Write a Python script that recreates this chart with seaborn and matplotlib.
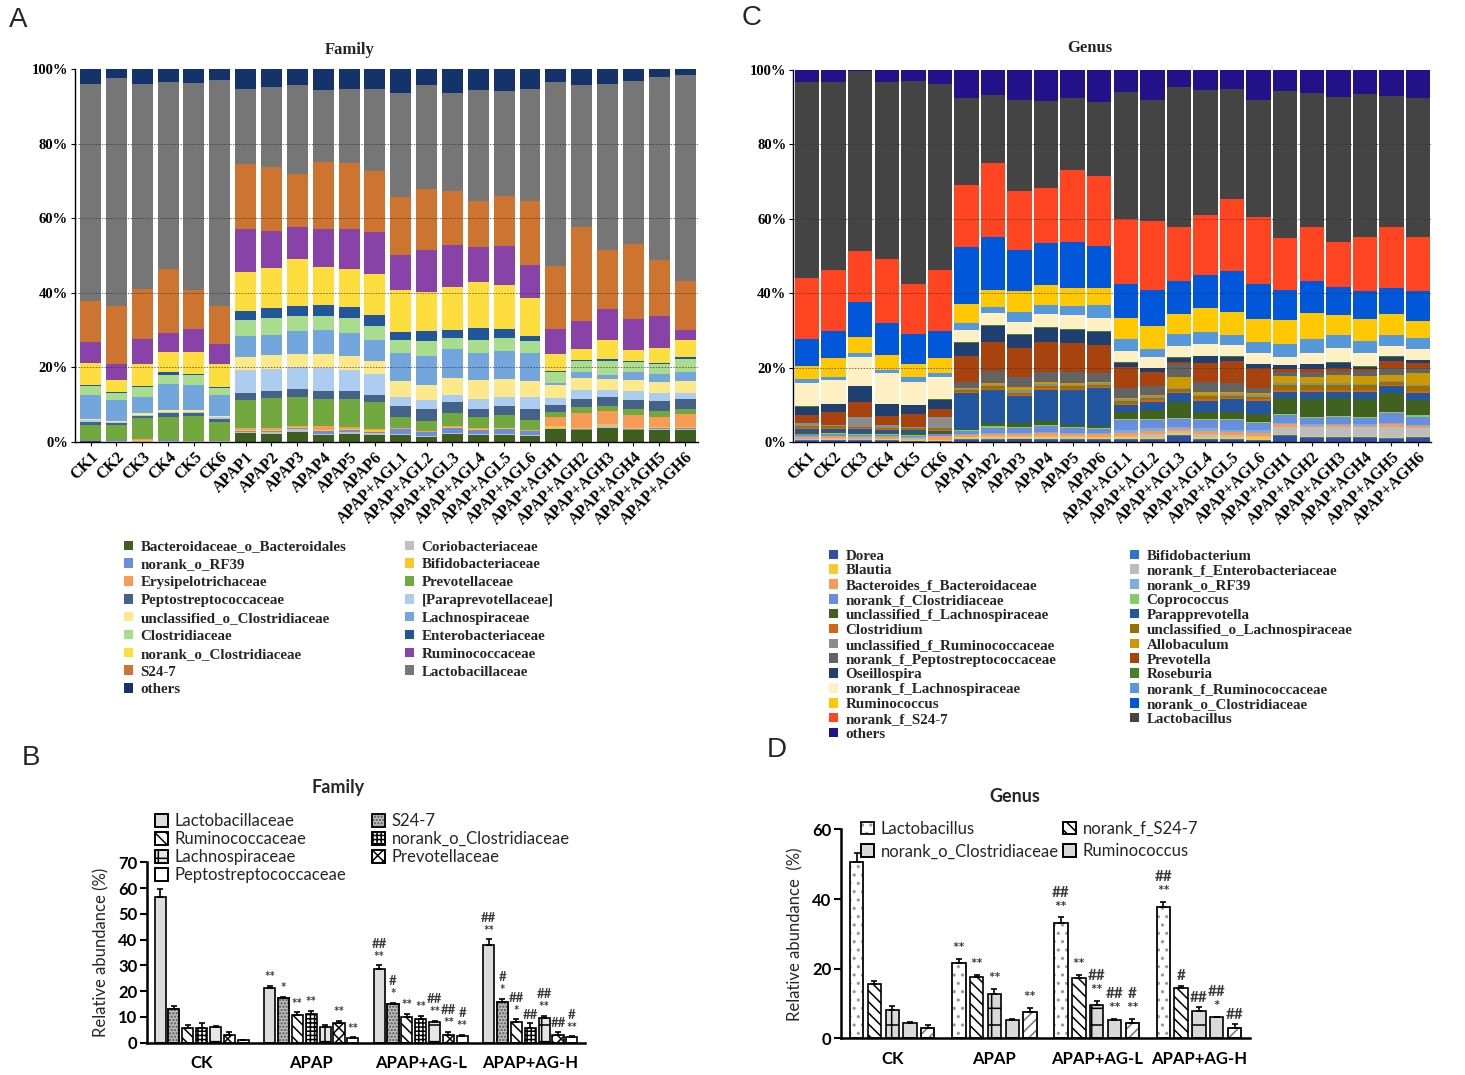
import numpy as np
import pandas as pd
import matplotlib
matplotlib.use('Agg')
import matplotlib.pyplot as plt
from matplotlib.patches import Patch, Rectangle
import seaborn as sns

sns.set_theme(style='ticks')
plt.rcParams['font.family'] = ['Liberation Serif', 'DejaVu Sans']
plt.rcParams['hatch.linewidth'] = 1.1

SERIF = ['Liberation Serif', 'DejaVu Serif']
SANS = ['Lato', 'DejaVu Sans']

samples = ['CK1', 'CK2', 'CK3', 'CK4', 'CK5', 'CK6',
           'APAP1', 'APAP2', 'APAP3', 'APAP4', 'APAP5', 'APAP6',
           'APAP+AGL1', 'APAP+AGL2', 'APAP+AGL3', 'APAP+AGL4', 'APAP+AGL5', 'APAP+AGL6',
           'APAP+AGH1', 'APAP+AGH2', 'APAP+AGH3', 'APAP+AGH4', 'APAP+AGH5', 'APAP+AGH6']

# ---- A: family level relative abundance (%), bottom layer first ----
bacteroidaceae = [0.3, 0.1, 0.1, 0.1, 0.1, 0.1, 2.4, 2.2, 2.6, 2.0, 2.2, 2.0,
                  2.0, 1.3, 2.2, 2.0, 2.0, 1.7, 3.5, 3.1, 3.75, 3.1, 3.3, 3.1]
coriobacteriaceae = [0.1, 0.1, 0.1, 0.1, 0.1, 0.1, 0.3, 0.4, 0.9, 0.2, 0.4, 0.4,
                     0.1, 0.4, 0.2, 0.2, 0.1, 0.2, 0.2, 0.2, 0.85, 0.2, 0.2, 0.4]
rf39 = [0.1, 0.3, 0.1, 0.3, 0.1, 0.1, 0.2, 0.3, 0.25, 0.7, 0.5, 0.3,
        1.4, 0.9, 1.35, 1.1, 1.4, 1.0, 0.1, 0.2, 0.1, 0.2, 0.2, 0.2]
bifidobacteriaceae = [0.1, 0.1, 0.3, 0.1, 0.1, 0.1, 0.2, 0.4, 0.15, 0.2, 0.4, 0.4,
                      0.1, 0.2, 0.15, 0.2, 0.2, 0.1, 0.4, 0.2, 0.1, 0.25, 0.2, 0.2]
erysipelotrichaceae = [0.0, 0.0, 0.1, 0.0, 0.0, 0.0, 0.6, 0.5, 0.3, 1.1, 0.4, 0.4,
                       0.15, 0.2, 0.3, 0.25, 0.1, 0.1, 2.5, 4.1, 3.4, 3.55, 2.8, 3.6]
prevotellaceae = [4.0, 3.9, 5.7, 6.1, 6.5, 5.1, 7.6, 8.0, 7.9, 7.4, 7.7, 7.1,
                  3.0, 2.7, 3.6, 2.95, 3.5, 2.9, 1.3, 1.5, 1.5, 1.5, 1.7, 1.3]
peptostreptococcaceae = [0.9, 0.6, 0.7, 1.1, 0.9, 0.8, 1.8, 2.0, 2.1, 2.0, 2.0, 2.1,
                         2.9, 3.1, 2.8, 2.1, 2.4, 2.8, 1.8, 2.3, 2.5, 2.5, 2.5, 2.7]
paraprevotellaceae = [0.5, 0.2, 0.2, 0.3, 0.3, 0.3, 6.1, 5.9, 5.9, 6.2, 5.8, 5.6,
                      2.5, 2.5, 2.1, 2.8, 2.4, 3.3, 2.0, 2.4, 1.7, 2.3, 2.2, 1.6]
unclassified_o_clostridiaceae = [0.2, 0.4, 0.5, 0.4, 0.4, 0.5, 3.5, 3.7, 3.6, 3.8, 3.6, 3.3,
                                 4.2, 4.1, 4.5, 4.9, 4.8, 4.2, 3.4, 3.2, 3.0, 2.9, 2.9, 3.2]
lachnospiraceae = [6.3, 5.5, 4.3, 7.1, 6.9, 5.4, 5.8, 5.4, 6.0, 6.5, 6.2, 5.8,
                   7.6, 7.6, 7.7, 7.4, 7.6, 7.7, 0.6, 1.7, 1.2, 2.2, 2.3, 2.6]
clostridiaceae = [2.4, 1.9, 2.6, 2.5, 2.7, 2.0, 4.3, 4.4, 4.2, 3.6, 4.0, 3.8,
                  3.3, 4.0, 3.0, 3.5, 3.4, 3.0, 3.1, 2.9, 3.5, 2.7, 2.7, 3.4]
enterobacteriaceae = [0.5, 0.2, 0.2, 0.6, 0.1, 0.2, 2.2, 2.7, 2.6, 3.1, 2.9, 2.8,
                      2.2, 2.7, 2.2, 3.3, 2.4, 1.5, 0.2, 0.3, 0.7, 0.2, 0.2, 0.5]
norank_o_clostridiaceae = [5.8, 3.2, 6.1, 5.4, 5.9, 6.3, 10.7, 10.7, 12.6, 10.1, 10.4, 11.0,
                           11.4, 10.4, 11.5, 12.1, 11.9, 10.1, 4.5, 2.8, 5.0, 3.2, 4.0, 4.5]
ruminococcaceae = [5.5, 4.5, 6.6, 5.1, 6.2, 5.3, 11.4, 9.9, 8.5, 10.2, 10.6, 11.2,
                   9.4, 11.5, 11.2, 9.5, 10.4, 8.9, 6.7, 7.5, 8.4, 8.2, 8.7, 2.8]
s24_7 = [11.2, 15.4, 13.4, 17.2, 10.5, 10.3, 17.4, 17.1, 14.3, 18.0, 17.7, 16.4,
         15.5, 16.2, 14.4, 12.4, 13.4, 17.2, 17.0, 25.2, 15.9, 20.1, 14.8, 13.2]
lactobacillaceae = [58.2, 61.2, 55.1, 50.2, 55.4, 60.4, 20.2, 21.5, 23.9, 19.4, 19.9, 22.1,
                    28.0, 28.0, 26.5, 29.8, 28.0, 29.9, 49.1, 38.2, 44.5, 43.6, 49.2, 55.2]
family_others = [3.9, 2.4, 3.9, 3.4, 3.8, 3.0, 5.3, 4.9, 4.2, 5.5, 5.3, 5.3,
                 6.3, 4.2, 6.3, 5.5, 6.0, 5.4, 3.6, 4.2, 3.9, 3.3, 2.1, 1.5]

family_names = ['Bacteroidaceae_o_Bacteroidales', 'Coriobacteriaceae', 'norank_o_RF39',
                'Bifidobacteriaceae', 'Erysipelotrichaceae', 'Prevotellaceae',
                'Peptostreptococcaceae', '[Paraprevotellaceae]', 'unclassified_o_Clostridiaceae',
                'Lachnospiraceae', 'Clostridiaceae', 'Enterobacteriaceae',
                'norank_o_Clostridiaceae', 'Ruminococcaceae', 'S24-7', 'Lactobacillaceae', 'others']
family_layers = [bacteroidaceae, coriobacteriaceae, rf39, bifidobacteriaceae, erysipelotrichaceae,
                 prevotellaceae, peptostreptococcaceae, paraprevotellaceae,
                 unclassified_o_clostridiaceae, lachnospiraceae, clostridiaceae,
                 enterobacteriaceae, norank_o_clostridiaceae, ruminococcaceae, s24_7,
                 lactobacillaceae, family_others]
family_colors = ['#3f5f21', '#bfbfbf', '#6a8de0', '#fdc62a', '#f99a57', '#72a93f',
                 '#44628a', '#adcdf0', '#fde98a', '#72a6dc', '#a9dc8c', '#22569b',
                 '#fedd3f', '#8842a8', '#cc7430', '#767676', '#13336a']

# ---- C: genus level relative abundance (%), bottom layer first ----
dorea = [0.3, 0.3, 0.3, 0.3, 0.2, 0.2, 0.5, 0.5, 0.8, 0.5, 0.5, 0.5,
         0.5, 0.6, 1.8, 0.5, 0.5, 0.4, 1.7, 1.1, 1.2, 1.1, 0.9, 1.2]
bifidobacterium = [0.2, 0.2, 0.2, 0.2, 0.2, 0.1, 0.3, 0.3, 0.2, 0.3, 0.3, 0.3,
                   0.3, 0.3, 0.2, 0.3, 0.3, 0.3, 0.2, 0.2, 0.2, 0.2, 0.2, 0.2]
blautia = [0.2, 0.3, 0.2, 0.3, 0.2, 0.2, 0.5, 0.6, 0.5, 0.6, 0.5, 0.5,
           0.5, 0.5, 0.4, 0.7, 0.6, 0.6, 0.2, 0.3, 0.3, 0.3, 0.4, 0.3]
norank_f_enterobacteriaceae = [0.3, 0.3, 0.2, 0.2, 0.2, 0.1, 0.2, 0.2, 0.2, 0.3, 0.3, 0.2,
                               0.5, 0.8, 0.5, 0.7, 0.6, 0.5, 2.0, 2.4, 2.4, 2.4, 2.7, 2.2]
bacteroides = [0.4, 0.5, 0.6, 0.4, 0.3, 1.0, 0.5, 0.6, 0.5, 0.7, 0.6, 0.6,
               0.8, 0.9, 0.7, 0.9, 0.8, 0.8, 0.7, 0.5, 0.5, 0.5, 0.6, 0.5]
genus_rf39 = [0.2, 0.2, 0.2, 0.2, 0.2, 0.1, 0.3, 0.3, 0.3, 0.4, 0.3, 0.3,
              0.7, 0.7, 0.4, 0.7, 0.6, 0.6, 0.3, 0.3, 0.3, 0.3, 0.4, 0.3]
norank_f_clostridiaceae = [0.5, 0.4, 0.3, 0.4, 0.5, 0.4, 0.8, 1.4, 1.3, 1.6, 1.3, 1.2,
                           2.7, 2.2, 2.3, 2.2, 2.6, 1.9, 2.2, 1.8, 1.9, 1.8, 2.6, 2.2]
coprococcus = [0.2, 0.2, 0.1, 0.1, 0.1, 0.1, 0.3, 0.4, 0.4, 0.3, 0.3, 0.2,
               0.3, 0.3, 0.3, 0.3, 0.3, 0.3, 0.3, 0.2, 0.2, 0.2, 0.4, 0.3]
unclassified_f_lachnospiraceae = [0.4, 0.4, 0.4, 0.4, 0.5, 0.5, 0.2, 0.8, 0.9, 1.0, 0.6, 0.6,
                                  1.7, 2.4, 4.3, 1.9, 1.9, 2.2, 4.2, 4.7, 4.8, 4.7, 5.0, 4.2]
parapprevotella = [0.8, 0.8, 1.1, 0.8, 0.8, 0.4, 9.6, 9.0, 7.2, 8.4, 9.4, 10.1,
                   2.0, 2.2, 2.3, 3.0, 3.3, 3.6, 1.8, 2.1, 1.8, 2.1, 1.9, 1.9]
clostridium = [0.3, 0.2, 0.3, 0.2, 0.2, 0.3, 0.3, 0.3, 0.3, 0.4, 0.3, 0.4,
               0.4, 0.4, 0.4, 0.4, 0.4, 0.4, 0.4, 0.4, 0.4, 0.4, 0.3, 0.4]
unclassified_o_lachnospiraceae = [0.6, 0.5, 0.3, 0.3, 0.4, 0.4, 0.5, 0.6, 0.6, 0.5, 0.6, 0.5,
                                  0.6, 0.6, 0.6, 0.7, 0.6, 0.6, 1.3, 1.3, 1.5, 1.3, 0.8, 1.3]
unclassified_f_ruminococcaceae = [0.7, 0.3, 2.5, 0.8, 0.4, 3.1, 0.4, 0.4, 0.8, 0.6, 0.5, 0.5,
                                  0.5, 0.4, 0.4, 0.5, 0.5, 0.5, 0.5, 0.5, 0.4, 0.4, 0.3, 0.4]
allobaculum = [0.1, 0.1, 0.1, 0.1, 0.0, 0.0, 0.3, 0.5, 0.8, 0.6, 0.5, 0.4,
               0.5, 0.4, 3.0, 0.6, 0.4, 0.4, 2.0, 1.8, 2.2, 2.0, 1.6, 3.1]
norank_f_peptostreptococcaceae = [0.1, 0.0, 0.1, 0.0, 0.0, 0.0, 1.5, 3.3, 2.8, 2.8, 3.0, 2.2,
                                  2.5, 2.3, 3.4, 2.9, 2.4, 1.4, 1.2, 1.3, 1.0, 1.4, 1.8, 1.4]
prevotella = [2.0, 3.3, 3.8, 2.4, 3.4, 2.0, 6.9, 7.8, 7.6, 8.0, 7.6, 7.6,
              5.6, 4.0, 0.5, 4.9, 5.9, 5.4, 0.6, 0.7, 0.9, 0.6, 1.8, 1.3]
oseillospira = [2.3, 2.3, 4.4, 3.2, 2.4, 2.5, 3.6, 4.1, 3.6, 3.6, 3.6, 3.6,
                1.3, 0.9, 1.2, 2.0, 1.3, 1.1, 1.1, 1.3, 1.4, 0.6, 1.3, 0.9]
roseburia = [0.1, 0.1, 0.1, 0.1, 0.1, 0.1, 0.2, 0.3, 0.3, 0.3, 0.3, 0.2,
             0.1, 0.1, 0.2, 0.1, 0.1, 0.1, 0.1, 0.1, 0.1, 0.1, 0.1, 0.1]
norank_f_lachnospiraceae = [6.1, 6.2, 7.8, 8.1, 6.2, 6.1, 3.3, 3.4, 3.1, 3.6, 3.7, 3.6,
                            3.0, 3.0, 3.0, 3.1, 3.0, 2.8, 2.2, 3.1, 3.7, 3.7, 2.8, 2.8]
norank_f_ruminococcaceae = [1.1, 1.0, 0.9, 0.9, 1.1, 1.1, 1.9, 1.6, 2.7, 2.4, 2.4, 3.4,
                            3.2, 2.0, 3.2, 3.3, 2.7, 3.1, 3.4, 3.6, 3.6, 3.1, 2.9, 3.1]
ruminococcus = [3.6, 5.0, 4.5, 4.1, 3.6, 4.0, 5.1, 4.5, 5.8, 5.4, 4.8, 4.5,
                5.6, 6.3, 5.3, 6.3, 6.3, 6.0, 6.4, 7.1, 5.4, 5.8, 5.6, 4.5]
genus_norank_o_clostridiaceae = [7.2, 7.3, 9.4, 8.5, 8.1, 7.2, 15.3, 14.3, 11.0, 11.3, 12.5, 11.2,
                                 9.2, 9.6, 8.9, 8.9, 11.0, 9.5, 8.1, 8.4, 7.6, 7.7, 7.0, 8.1]
norank_f_s24_7 = [16.3, 16.4, 13.6, 17.1, 13.4, 16.4, 16.5, 19.7, 15.9, 14.6, 19.1, 18.8,
                  17.4, 18.4, 14.6, 16.2, 19.2, 18.1, 13.9, 14.5, 12.1, 14.5, 16.5, 14.5]
lactobacillus = [52.9, 50.6, 48.3, 47.8, 54.6, 49.9, 23.5, 18.4, 24.3, 23.5, 19.6, 20.1,
                 34.3, 32.6, 37.4, 33.4, 29.5, 31.3, 39.5, 36.0, 38.8, 38.4, 35.2, 37.2]
genus_others = [3.1, 3.1, 0.3, 3.1, 2.9, 3.8, 7.5, 6.7, 8.1, 8.3, 7.4, 8.5,
                5.8, 8.1, 4.7, 5.5, 5.2, 8.1, 5.7, 6.3, 7.3, 6.4, 6.9, 7.6]

genus_names = ['Dorea', 'Bifidobacterium', 'Blautia', 'norank_f_Enterobacteriaceae',
               'Bacteroides_f_Bacteroidaceae', 'norank_o_RF39', 'norank_f_Clostridiaceae',
               'Coprococcus', 'unclassified_f_Lachnospiraceae', 'Parapprevotella', 'Clostridium',
               'unclassified_o_Lachnospiraceae', 'unclassified_f_Ruminococcaceae', 'Allobaculum',
               'norank_f_Peptostreptococcaceae', 'Prevotella', 'Oseillospira', 'Roseburia',
               'norank_f_Lachnospiraceae', 'norank_f_Ruminococcaceae', 'Ruminococcus',
               'norank_o_Clostridiaceae', 'norank_f_S24-7', 'Lactobacillus', 'others']
genus_layers = [dorea, bifidobacterium, blautia, norank_f_enterobacteriaceae, bacteroides,
                genus_rf39, norank_f_clostridiaceae, coprococcus, unclassified_f_lachnospiraceae,
                parapprevotella, clostridium, unclassified_o_lachnospiraceae,
                unclassified_f_ruminococcaceae, allobaculum, norank_f_peptostreptococcaceae,
                prevotella, oseillospira, roseburia, norank_f_lachnospiraceae,
                norank_f_ruminococcaceae, ruminococcus, genus_norank_o_clostridiaceae,
                norank_f_s24_7, lactobacillus, genus_others]
genus_colors = ['#2e4fa3', '#2f73cc', '#ffc72c', '#bdbdbd', '#f99a57', '#79aee0', '#6a8de0',
                '#86cc60', '#416120', '#2356a0', '#d9621a', '#987200', '#8c8c8c', '#cc9a00',
                '#636363', '#a8420f', '#1f3f70', '#4a7f2a', '#fff0c4', '#5698dc', '#ffc800',
                '#0057d9', '#ff4422', '#444444', '#221188']

# ---- B: family means (%) with SEM ----
groups = ['CK', 'APAP', 'APAP+AG-L', 'APAP+AG-H']
b_families = ['Lactobacillaceae', 'S24-7', 'Ruminococcaceae', 'norank_o_Clostridiaceae',
              'Lachnospiraceae', 'Prevotellaceae', 'Peptostreptococcaceae']
b_lactobacillaceae = [56.4, 21.1, 28.5, 37.9]
b_s24_7 = [13.1, 17.2, 14.9, 15.9]
b_ruminococcaceae = [5.6, 10.7, 10.1, 8.2]
b_norank_o_clostridiaceae = [5.6, 11.0, 9.4, 5.8]
b_lachnospiraceae = [6.0, 6.1, 7.9, 9.7]
b_prevotellaceae = [3.2, 7.5, 3.2, 3.2]
b_peptostreptococcaceae = [0.9, 1.9, 2.6, 2.2]
b_sem = [[3.1, 1.0, 1.5, 2.2], [1.3, 0.7, 0.6, 1.0], [1.3, 1.1, 1.0, 0.9], [1.9, 1.5, 1.1, 1.7],
         [0.6, 0.8, 0.6, 0.6], [1.1, 1.0, 1.1, 1.1], [0.2, 0.2, 0.3, 0.3]]
b_marks = [['', '**', '##\n**', '##\n**'], ['', '*', '#\n*', '#\n*'], ['', '**', '**', '##\n*'],
           ['', '**', '**', '##'], ['', '', '##\n**', '##\n**'], ['', '**', '##\n**', '##'],
           ['', '**', '#\n**', '#\n**']]

# ---- D: genus means (%) with SEM ----
d_genera = ['Lactobacillus', 'norank_f_S24-7', 'norank_o_Clostridiaceae', 'Ruminococcus', 'unlabelled']
d_lactobacillus = [50.7, 21.7, 33.0, 37.6]
d_norank_f_s24_7 = [15.6, 17.7, 17.2, 14.4]
d_norank_o_clostridiaceae = [8.1, 12.7, 9.6, 7.8]
d_ruminococcus = [4.3, 5.3, 5.3, 6.0]
d_unlabelled = [2.9, 7.7, 4.3, 2.9]
d_sem = [[2.6, 1.1, 1.7, 1.6], [0.9, 0.5, 1.0, 0.7], [1.2, 1.4, 1.2, 1.1],
         [0.3, 0.2, 0.2, 0.2], [0.9, 1.1, 1.3, 1.1]]
d_marks = [['', '**', '##\n**', '##\n**'], ['', '**', '**', '#'], ['', '**', '##\n**', '##'],
           ['', '', '##\n**', '##\n*'], ['', '**', '#\n**', '##']]


def stacked_panel(ax, layers, colors, width, xlim):
    table = np.array(layers, dtype=float)
    tops = np.cumsum(table / table.sum(axis=0) * 100, axis=0)
    # draw from the top layer down so each lower layer covers the one above
    for top, col in zip(tops[::-1], colors[::-1]):
        sns.barplot(x=samples, y=top, color=col, width=width, saturation=1,
                    linewidth=0, errorbar=None, ax=ax)
    ax.set_xlim(*xlim)
    ax.set_ylim(0, 100)
    ax.set_yticks(range(0, 101, 20))
    ax.set_yticklabels([f'{v}%' for v in range(0, 101, 20)], fontweight='bold',
                       fontsize=10.5, family=SERIF)
    ax.set_xticks(range(len(samples)))
    ax.set_xticklabels(samples, rotation=45, ha='right', rotation_mode='anchor',
                       fontweight='bold', fontsize=11.5, family=SERIF)
    for v in (20, 40, 60, 80):
        ax.axhline(v, color='#333333', lw=0.7, ls=(0, (1.5, 1.5)), alpha=0.7, zorder=5)
    sns.despine(ax=ax)
    for s in ('left', 'bottom'):
        ax.spines[s].set_color('black')
        ax.spines[s].set_linewidth(1.0)
    ax.tick_params(length=3, width=0.8, pad=2, colors='black')
    ax.set_xlabel('')
    ax.set_ylabel('')


def column_legend(names, colors, x, y, size, spacing):
    handles = [Patch(facecolor=c, edgecolor='none', label=n) for n, c in zip(names, colors)]
    fig.legend(handles=handles, loc='upper left', bbox_to_anchor=(x, y), frameon=False,
               prop=dict(family=SERIF, weight='bold', size=size), handlelength=0.6,
               handleheight=0.6, handletextpad=0.5, labelspacing=spacing,
               borderpad=0, borderaxespad=0)


def grouped_panel(ax, names, values, sems, marks, fills, hatches, hatch_colors,
                  width, gap, ylim, ystep, ylabel, mark_size):
    df = pd.DataFrame({'group': groups * len(names),
                       'taxon': np.repeat(names, len(groups)),
                       'value': np.concatenate(values)})
    sns.barplot(data=df, x='group', y='value', hue='taxon', hue_order=names, order=groups,
                palette=dict(zip(names, fills)), width=width, gap=gap, saturation=1,
                errorbar=None, edgecolor='black', linewidth=1.2, legend=False, ax=ax)
    for cont, hatch, hcol, err, mk in zip(ax.containers, hatches, hatch_colors, sems, marks):
        xs, ys = [], []
        for bar in cont:
            bar.set_hatch(hatch)
            if hcol != 'black':
                # lighter hatch: hatch takes the edge colour, so redraw the black outline
                bar.set_edgecolor(hcol)
                ax.add_patch(Rectangle(bar.get_xy(), bar.get_width(), bar.get_height(),
                                       fill=False, edgecolor='black', lw=1.2, zorder=3))
            xs.append(bar.get_x() + bar.get_width() / 2)
            ys.append(bar.get_height())
        ax.errorbar(xs, ys, yerr=[np.zeros(len(err)), err], fmt='none', ecolor='black',
                    elinewidth=1.2, capsize=2.5, capthick=1.2, zorder=4)
        for x, y, e, m in zip(xs, ys, err, mk):
            if m:
                ax.annotate(m, (x, y + e), xytext=(0, 2), textcoords='offset points',
                            ha='center', va='bottom', fontsize=mark_size, fontweight='bold',
                            color='#3a3a3a', family=SANS, linespacing=1.1)
    ax.set_xlim(-0.5, 3.5)
    ax.set_ylim(*ylim)
    ax.set_yticks(np.arange(0, ylim[1] + 1, ystep))
    sns.despine(ax=ax)
    for s in ('left', 'bottom'):
        ax.spines[s].set_color('black')
        ax.spines[s].set_linewidth(1.8)
    ax.tick_params(axis='y', length=5, width=1.5, colors='black', labelsize=12, pad=2)
    ax.tick_params(axis='x', length=0, labelsize=12, pad=9, colors='black')
    for lab in ax.get_xticklabels() + ax.get_yticklabels():
        lab.set_fontweight('bold')
        lab.set_family(SANS)
    ax.set_xlabel('')
    ax.set_ylabel(ylabel, fontsize=12, family=SANS, labelpad=6)


def hatch_handles(names, fills, hatches, hatch_colors):
    handles = []
    for n, f, h, hc in zip(names, fills, hatches, hatch_colors):
        handles.append((Patch(facecolor=f, edgecolor=hc, hatch=h, lw=1.2),
                        Patch(fill=False, edgecolor='black', lw=1.2)))
    return handles


fig = plt.figure(figsize=(14.65, 10.75), dpi=100)

# Panel A
axA = fig.add_axes([0.0512, 0.5888, 0.4253, 0.3470])
stacked_panel(axA, family_layers, family_colors, 0.81, (-0.6, 23.5))
fig.text(350 / 1465, 1 - 50 / 1075, 'Family', ha='center', va='center', fontsize=12,
         fontweight='bold', family=SERIF)
left_idx = [0, 2, 4, 6, 8, 10, 12, 14, 16]
right_idx = [1, 3, 5, 7, 9, 11, 13, 15]
column_legend([family_names[i] for i in left_idx], [family_colors[i] for i in left_idx],
              0.0846, 0.4972, 10.8, 0.32)
column_legend([family_names[i] for i in right_idx], [family_colors[i] for i in right_idx],
              0.2765, 0.4972, 10.8, 0.32)

# Panel C
axC = fig.add_axes([0.5415, 0.5886, 0.4351, 0.3463])
stacked_panel(axC, genus_layers, genus_colors, 0.92, (-0.52, 23.48))
fig.text(1090 / 1465, 1 - 48 / 1075, 'Genus', ha='center', va='center', fontsize=12,
         fontweight='bold', family=SERIF)
left_idx = list(range(0, 25, 2))
right_idx = list(range(1, 25, 2))
column_legend([genus_names[i] for i in left_idx], [genus_colors[i] for i in left_idx],
              0.5659, 0.4888, 10.8, 0.12)
column_legend([genus_names[i] for i in right_idx], [genus_colors[i] for i in right_idx],
              0.7713, 0.4888, 10.8, 0.12)

# Panel B
axB = fig.add_axes([0.1003, 0.0300, 0.2990, 0.1678])
b_fills = ['#dcdcdc', '#bdbdbd', 'white', 'white', '#e6e6e6', 'white', 'white']
b_hatches = ['', '.....', '\\\\\\', '++++', '+', 'xxx', '']
b_hatch_colors = ['black', '#555555', 'black', 'black', 'black', 'black', 'black']
grouped_panel(axB, b_families,
              [b_lactobacillaceae, b_s24_7, b_ruminococcaceae, b_norank_o_clostridiaceae,
               b_lachnospiraceae, b_prevotellaceae, b_peptostreptococcaceae],
              b_sem, b_marks, b_fills, b_hatches, b_hatch_colors, 0.887, 0.2, (0, 70), 10,
              'Relative abundance (%)', 9.5)
fig.text(338 / 1465, 1 - 788 / 1075, 'Family', ha='center', va='center', fontsize=13,
         fontweight='bold', family=SANS)
b_handles = hatch_handles(b_families, b_fills, b_hatches, b_hatch_colors)
for cols, x in (([0, 2, 4, 6], 0.1058), ([1, 3, 5], 0.2537)):
    fig.legend(handles=[b_handles[i] for i in cols], labels=[b_families[i] for i in cols],
               loc='upper left', bbox_to_anchor=(x, 0.2435),
               frameon=False, prop=dict(family=SANS, size=12), handlelength=0.8,
               handleheight=0.8, handletextpad=0.4, labelspacing=0.12, borderpad=0,
               borderaxespad=0)

# Panel D
axD = fig.add_axes([0.5741, 0.0341, 0.2792, 0.1944])
d_fills = ['white', 'white', '#d9d9d9', '#d9d9d9', 'white']
d_hatches = ['..', '\\\\\\', '+', '', '///']
d_hatch_colors = ['#999999', 'black', 'black', 'black', '#777777']
grouped_panel(axD, d_genera,
              [d_lactobacillus, d_norank_f_s24_7, d_norank_o_clostridiaceae, d_ruminococcus,
               d_unlabelled],
              d_sem, d_marks, d_fills, d_hatches, d_hatch_colors, 0.87, 0.25, (0, 60), 20,
              'Relative abundance  (%)', 11)
fig.text(1015 / 1465, 1 - 797 / 1075, 'Genus', ha='center', va='center', fontsize=13,
         fontweight='bold', family=SANS)
d_handles = hatch_handles(d_genera[:4], d_fills[:4], d_hatches[:4], d_hatch_colors[:4])
for cols, x in (([0, 2], 0.5875), ([1, 3], 0.7254)):
    fig.legend(handles=[d_handles[i] for i in cols], labels=[d_genera[i] for i in cols],
               loc='upper left', bbox_to_anchor=(x, 0.2365),
               frameon=False, prop=dict(family=SANS, size=12), handlelength=0.8,
               handleheight=0.8, handletextpad=0.4, labelspacing=0.4, borderpad=0,
               borderaxespad=0)

# panel letters
for letter, px, py in (('A', 18, 20), ('C', 752, 18), ('B', 31, 758), ('D', 777, 750)):
    fig.text(px / 1465, 1 - py / 1075, letter, ha='center', va='center', fontsize=20,
             family=['Liberation Sans', 'DejaVu Sans'])

fig.savefig('out.png', dpi=100)
